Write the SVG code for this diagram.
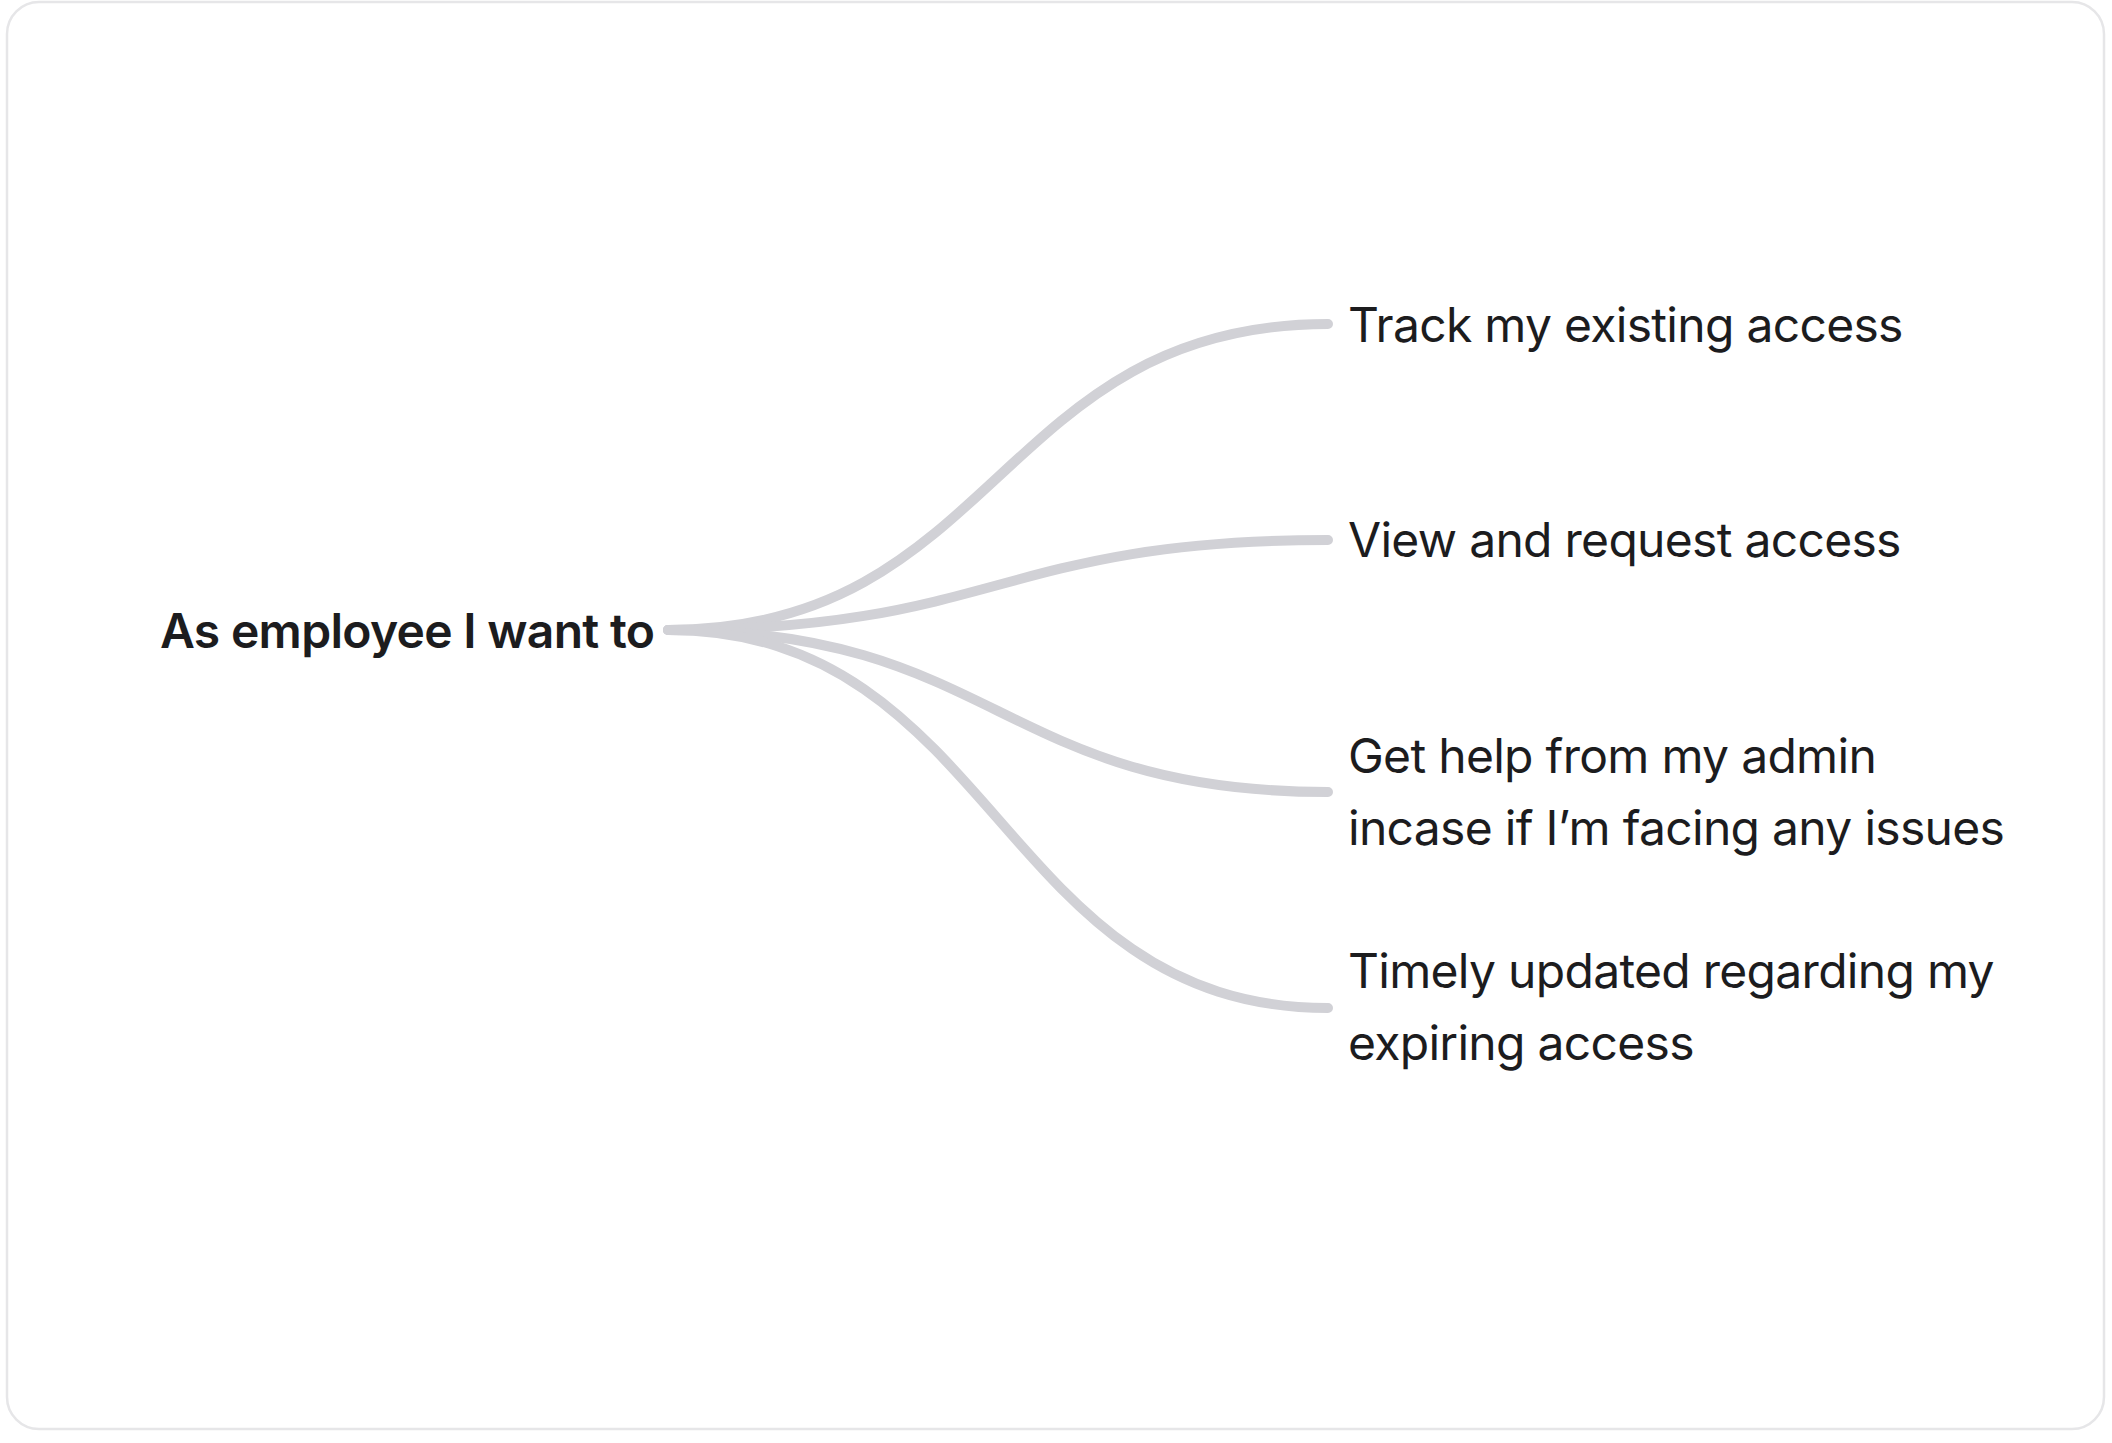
<svg xmlns="http://www.w3.org/2000/svg" width="2112" height="1443" viewBox="0 0 2112 1443">
  <style>
    .frame { fill: #ffffff; stroke: #e6e6e8; stroke-width: 2.5; }
    .edge { fill: none; stroke: #d1d1d6; stroke-width: 10; stroke-linecap: round; }
    .root { font-family: Inter, "Liberation Sans", sans-serif; font-weight: 600; font-size: 48px; letter-spacing: -0.7px; fill: #1c1c1e; }
    .leaf { font-family: Inter, "Liberation Sans", sans-serif; font-weight: 400; font-size: 48px; letter-spacing: -0.7px; fill: #1c1c1e; }
  </style>
  <rect x="0" y="0" width="2112" height="1443" fill="#ffffff"/>
  <rect class="frame" x="7" y="2" width="2097" height="1427" rx="32" ry="32"/>
  <g id="connectors">
    <path class="edge" d="M668,630 C998,630 998,324 1328,324"/>
    <path class="edge" d="M668,630 C998,630 998,540 1328,540"/>
    <path class="edge" d="M668,630 C998,630 998,792 1328,792"/>
    <path class="edge" d="M668,630 C998,630 998,1008 1328,1008"/>
  </g>
  <g id="root">
    <text class="root" x="160" y="648">As employee I want to</text>
  </g>
  <g id="node-track">
    <text class="leaf" x="1348" y="342">Track my existing access</text>
  </g>
  <g id="node-view">
    <text class="leaf" x="1348" y="557">View and request access</text>
  </g>
  <g id="node-help">
    <text class="leaf" x="1348" y="773">Get help from my admin</text>
    <text class="leaf" x="1348" y="845">incase if I’m facing any issues</text>
  </g>
  <g id="node-timely">
    <text class="leaf" x="1348" y="988">Timely updated regarding my</text>
    <text class="leaf" x="1348" y="1060">expiring access</text>
  </g>
</svg>
